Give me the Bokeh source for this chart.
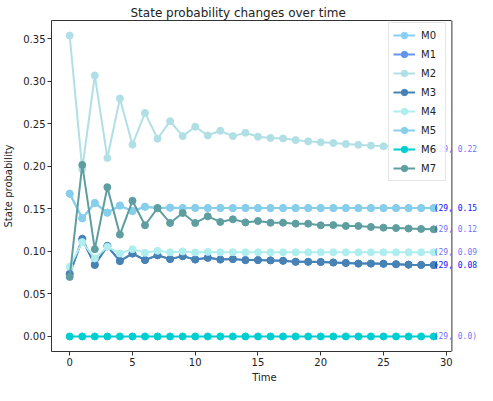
from bokeh.plotting import figure
from bokeh.models import (Range1d, FixedTicker, NumeralTickFormatter, Legend, LegendItem,
                          ColumnDataSource, LinearAxis, Span, Title)
from bokeh.core.properties import value
from bokeh.embed import file_html
from bokeh.resources import INLINE

time = list(range(30))
names = ["M0", "M1", "M2", "M3", "M4", "M5", "M6", "M7"]
colors = ["lightskyblue", "cornflowerblue", "powderblue", "steelblue",
          "paleturquoise", "skyblue", "darkturquoise", "cadetblue"]

m0 = [0.168, 0.139, 0.157, 0.1456, 0.154, 0.1475, 0.1526, 0.151, 0.1515, 0.151,
      0.1512, 0.151, 0.1511, 0.151, 0.1511, 0.151, 0.151, 0.151, 0.151, 0.151,
      0.151, 0.151, 0.151, 0.151, 0.151, 0.151, 0.151, 0.151, 0.151, 0.151]
m1 = [0.074, 0.114, 0.085, 0.106, 0.089, 0.0975, 0.090, 0.0955, 0.091, 0.0945,
      0.0905, 0.0925, 0.0905, 0.091, 0.0898, 0.0898, 0.0895, 0.089, 0.0878, 0.0878,
      0.0876, 0.087, 0.0865, 0.0857, 0.0857, 0.0855, 0.085, 0.0845, 0.0842, 0.084]
m2 = [0.354, 0.197, 0.307, 0.210, 0.280, 0.2256, 0.263, 0.2326, 0.2533, 0.2357,
      0.2467, 0.2365, 0.242, 0.2357, 0.2396, 0.235, 0.2335, 0.233, 0.231, 0.2295,
      0.2285, 0.2275, 0.2265, 0.2255, 0.2245, 0.2237, 0.2228, 0.222, 0.2212, 0.2205]
m3 = [0.073, 0.115, 0.084, 0.1066, 0.0886, 0.0976, 0.0898, 0.0956, 0.091, 0.0945,
      0.0905, 0.0925, 0.0905, 0.091, 0.0898, 0.0898, 0.0895, 0.089, 0.0878, 0.0878,
      0.0876, 0.087, 0.0865, 0.0857, 0.0857, 0.0855, 0.085, 0.0845, 0.0842, 0.084]
m4 = [0.082, 0.111, 0.0917, 0.1054, 0.0976, 0.1027, 0.0984, 0.1007, 0.099, 0.1,
      0.0988, 0.0995, 0.099, 0.0992, 0.099, 0.099, 0.099, 0.099, 0.099, 0.099,
      0.099, 0.099, 0.099, 0.099, 0.099, 0.099, 0.099, 0.099, 0.099, 0.099]
m5 = [0.168, 0.139, 0.157, 0.1456, 0.154, 0.1475, 0.1526, 0.151, 0.1515, 0.151,
      0.1512, 0.151, 0.1511, 0.151, 0.1511, 0.151, 0.151, 0.151, 0.151, 0.151,
      0.151, 0.151, 0.151, 0.151, 0.151, 0.151, 0.151, 0.151, 0.151, 0.151]
m6 = [0.0] * 30
m7 = [0.070, 0.2018, 0.1027, 0.1756, 0.1198, 0.1596, 0.1308, 0.151, 0.1335, 0.1452,
      0.1335, 0.1413, 0.1347, 0.1378, 0.1342, 0.1358, 0.1338, 0.1338, 0.1327, 0.1327,
      0.1308, 0.131, 0.130, 0.130, 0.1288, 0.128, 0.1275, 0.127, 0.1265, 0.126]
series = [m0, m1, m2, m3, m4, m5, m6, m7]

x_ticks = [0, 5, 10, 15, 20, 25, 30]
y_ticks = [0.0, 0.05, 0.10, 0.15, 0.20, 0.25, 0.30, 0.35]

# axes limits (matplotlib-style 5% margins); frame extends right so end labels can overflow
X0, X1 = -1.45, 30.45
Y0, Y1 = -0.0177, 0.3717
FRAME_X_END = 32.49

p = figure(width=477, height=385, output_backend="svg", toolbar_location=None,
           x_range=Range1d(X0, FRAME_X_END), y_range=Range1d(Y0, Y1),
           min_border_left=51, min_border_right=0, min_border_top=20, min_border_bottom=33,
           title=None)
p.xgrid.visible = False
p.ygrid.visible = False
p.outline_line_color = None

spine = "#333333"
for ax in (p.xaxis[0], p.yaxis[0]):
    ax.axis_line_color = spine
    ax.major_tick_line_color = spine
    ax.major_tick_in = 0
    ax.major_tick_out = 4
    ax.minor_tick_line_color = None
    ax.major_label_text_font = "DejaVu Sans"
    ax.major_label_text_font_size = "10px"
    ax.major_label_text_color = "#222222"
    ax.axis_label_text_font = "DejaVu Sans"
    ax.axis_label_text_font_size = "10px"
    ax.axis_label_text_font_style = "normal"
    ax.axis_label_text_color = "#222222"
    ax.major_label_standoff = 2

p.xaxis.ticker = FixedTicker(ticks=x_ticks)
p.xaxis.bounds = (X0, X1)
p.yaxis.ticker = FixedTicker(ticks=y_ticks)
p.yaxis.formatter = NumeralTickFormatter(format="0.00")
p.xaxis.axis_label = "Time"
p.yaxis.axis_label = "State probability"
p.xaxis.axis_label_standoff = 3
p.yaxis.axis_label_standoff = 6

# top spine
top_axis = LinearAxis(ticker=FixedTicker(ticks=[]), bounds=(X0, X1),
                      axis_line_color=spine, major_tick_in=0, major_tick_out=0,
                      minor_tick_line_color=None, major_label_text_font_size="0px")
p.add_layout(top_axis, "above")
# right spine
p.add_layout(Span(location=X1, dimension="height", line_color=spine, line_width=1))

p.add_layout(Title(text="State probability changes over time", align="left", offset=79,
                   text_font="DejaVu Sans", text_font_size="12px", text_font_style="normal",
                   text_color="#222222", standoff=2), "above")

items = []
for name, col, vals in zip(names, colors, series):
    l = p.line(time, vals, line_color=col, line_width=2)
    s = p.scatter(time, vals, size=7, fill_color=col, line_color=col)
    items.append(LegendItem(label=name, renderers=[l, s]))

end_src = ColumnDataSource(dict(
    x=[time[-1]] * len(series),
    y=[v[-1] for v in series],
    t=["(%d, %s)" % (time[-1], round(v[-1], 3)) for v in series],
))
p.text(x="x", y="y", text="t", source=end_src, text_font=value("DejaVu Sans Mono"),
       text_font_size="8px", text_color="blue", text_alpha=0.6,
       text_baseline="alphabetic", text_align="left")

legend = Legend(items=items, location=(337, 170))
legend.label_text_font = "DejaVu Sans"
legend.label_text_font_size = "10px"
legend.label_text_color = "#222222"
legend.glyph_width = 22
legend.glyph_height = 16
legend.label_height = 16
legend.spacing = 3
legend.padding = 4
legend.margin = 0
legend.label_standoff = 6
legend.border_line_color = "#cccccc"
legend.border_line_width = 1
legend.background_fill_alpha = 0.85
p.add_layout(legend)

open("out.html", "w").write(file_html(p, INLINE))
